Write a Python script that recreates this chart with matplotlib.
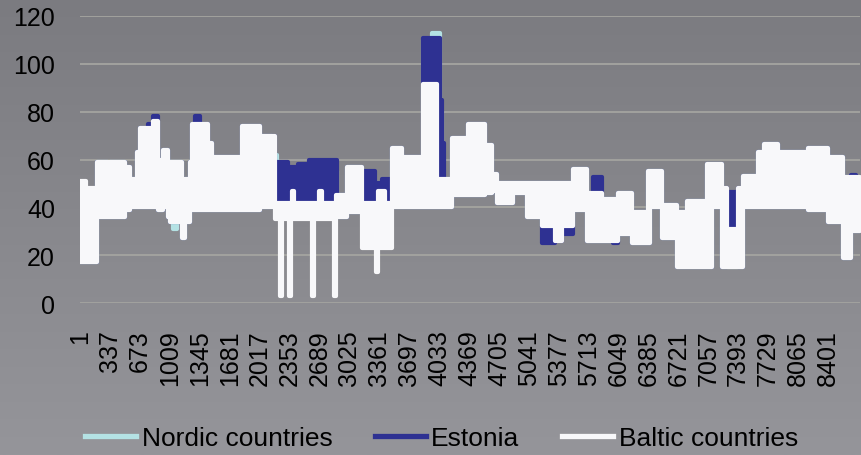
import numpy as np
import matplotlib
matplotlib.use('Agg')
import matplotlib.pyplot as plt
from matplotlib.lines import Line2D

# ============================== DATA ==============================
# Hourly prices read off the chart as blocks: block start hour, daily low, daily high

baltic_start = [1, 67, 191, 315, 337, 506, 562, 641, 674, 760, 820,
                877, 933, 989, 1012, 1146, 1180, 1236, 1259, 1439, 1484,
                1821, 2023, 2192, 2250, 2274, 2350, 2374, 2385, 2409, 2610,
                2634, 2690, 2714, 2856, 2880, 3001, 3170, 3326, 3350, 3430,
                3507, 3620, 3855, 4013, 4181, 4361, 4552, 4631, 4687, 4867,
                5024, 5193, 5339, 5418, 5541, 5699, 5867, 6047, 6204, 6384,
                6407, 6542, 6710, 6823, 7047, 7103, 7216, 7272, 7385, 7441,
                7610, 7677, 7834, 8171, 8396, 8565, 8655]
baltic_lo = [17, 17, 36, 36, 36, 39, 40, 40, 40, 40, 40,
             39, 40, 36, 34, 27, 34, 39, 39, 39, 39,
             39, 40, 35, 3, 35, 3, 35, 35, 35, 3,
             35, 35, 35, 3, 36, 38, 23, 13, 23, 23,
             40, 40, 40, 40, 45, 45, 46, 47, 42, 46,
             36, 32, 26, 32, 39, 26, 26, 29, 25, 25,
             40, 27, 15, 15, 15, 40, 15, 15, 15, 40,
             40, 40, 40, 39, 34, 19, 30]
baltic_hi = [51, 48, 59, 52, 59, 57, 52, 63, 73, 73, 76,
             60, 64, 43, 59, 45, 52, 59, 75, 67, 61,
             74, 70, 42, 42, 42, 42, 42, 47, 42, 42,
             42, 47, 42, 42, 45, 57, 42, 42, 47, 42,
             65, 61, 91.5, 52, 69, 75, 66, 54, 50, 50,
             50, 50, 50, 50, 56, 46, 43.5, 46, 38, 55,
             55, 41, 38, 42.5, 58, 58, 48, 31, 48, 53,
             63, 66.5, 63, 65, 61, 52.7, 52.7]

estonia_start = [1, 191, 315, 337, 506, 562, 641, 674, 760, 820,
                 877, 933, 989, 1012, 1146, 1180, 1236, 1259, 1293, 1349,
                 1439, 1484, 1821, 2023, 2192, 2338, 2450, 2570, 2889, 3001,
                 3170, 3316, 3395, 3507, 3620, 3855, 4040, 4065, 4085, 4181,
                 4361, 4552, 4631, 4687, 4867, 5024, 5193, 5339, 5418, 5541,
                 5699, 5766, 5867, 5991, 6047, 6204, 6384, 6407, 6542, 6710,
                 6823, 7047, 7103, 7216, 7272, 7385, 7441, 7610, 7677, 7834,
                 8171, 8396, 8565, 8655, 8710]
estonia_lo = [17, 36, 36, 36, 39, 40, 40, 40, 40, 40,
              39, 40, 36, 34, 27, 34, 39, 39, 39, 39,
              39, 39, 39, 40, 43, 43, 43, 43, 36, 38,
              43, 43, 43, 40, 40, 40, 40, 40, 40, 45,
              45, 46, 47, 42, 46, 36, 25, 26, 29, 39,
              26, 26, 26, 25, 29, 25, 25, 40, 27, 15,
              15, 15, 40, 15, 31, 15, 40, 40, 40, 40,
              39, 34, 19, 30, 30]
estonia_hi = [46, 59, 52, 59, 57, 52, 63, 73, 75, 78,
              60, 64, 43, 59, 45, 52, 59, 75, 78, 75,
              67, 61, 74, 70, 59, 57, 58, 60, 45, 57,
              55, 50, 52, 65, 61, 111, 85, 67, 52, 69,
              75, 66, 54, 50, 50, 50, 50, 50, 50, 56,
              46, 52.7, 43.5, 43.5, 46, 38, 55, 55, 41, 38,
              42.5, 58, 58, 48, 46.5, 48, 53, 63, 66.5, 63,
              65, 61, 52.7, 53.5, 52.7]

nordic_start = [1, 191, 315, 337, 506, 562, 641, 674, 820, 877,
                933, 989, 1012, 1050, 1090, 1146, 1180, 1236, 1259, 1439,
                1484, 1821, 2023, 2160, 2215, 2889, 3001, 3170, 3507, 3620,
                3855, 3956, 4040, 4069, 4181, 4361, 4552, 4631, 4687, 4867,
                5024, 5193, 5541, 5699, 5867, 6047, 6204, 6384, 6407, 6542,
                6710, 6823, 7047, 7103, 7216, 7441, 7610, 7677, 7834, 8171,
                8396, 8565, 8655]
nordic_lo = [17, 36, 36, 36, 39, 40, 40, 40, 40, 39,
             40, 36, 34, 31, 34, 27, 34, 39, 39, 39,
             39, 39, 40, 40, 43, 36, 38, 43, 40, 40,
             40, 40, 40, 40, 45, 45, 46, 47, 42, 46,
             36, 32, 39, 26, 26, 29, 25, 25, 40, 27,
             15, 15, 15, 40, 15, 40, 40, 40, 40, 39,
             34, 19, 30]
nordic_hi = [46, 59, 52, 59, 57, 52, 63, 73, 76, 60,
             64, 43, 59, 59, 59, 45, 52, 59, 75, 67,
             61, 74, 70, 62, 55, 45, 57, 50, 65, 61,
             110, 113, 80, 52, 69, 75, 66, 54, 50, 50,
             50, 50, 56, 46, 43.5, 46, 38, 55, 55, 41,
             38, 42.5, 58, 58, 46, 53, 63, 66.5, 63, 65,
             61, 52.7, 52.7]

n_hours = 8760
tick_hours = list(range(1, 8402, 336))

# ============================== PLOT STUFF =============================
fsize = [8.62, 4.56]
plt.rcParams['font.family'] = ['Liberation Sans', 'DejaVu Sans']

col_nordic = '#b4e2e4'
col_est = '#2e3192'
col_balt = '#f8f8fa'

fig = plt.figure(figsize=fsize, dpi=100)

# grey gradient background
bg = fig.add_axes([0, 0, 1, 1], zorder=-10)
grad = np.linspace(0, 1, 256).reshape(-1, 1)
bg.imshow(grad, aspect='auto', cmap=matplotlib.colors.LinearSegmentedColormap.from_list(
    'bg', ['#7b7b80', '#95959a']), extent=[0, 1, 0, 1])
bg.axis('off')

ax = fig.add_axes([80/862, 152/456, 780/862, 287/456])
ax.set_facecolor('none')


def band(start, lo, hi, c):
    x = np.array(start + [n_hours])
    ylo = np.array(lo + [lo[-1]])
    yhi = np.array(hi + [hi[-1]])
    poly = ax.fill_between(x, ylo, yhi, step='post', facecolor=c, zorder=3)
    poly.set_edgecolor(c)
    poly.set_linewidth(3.0)
    poly.set_joinstyle('round')


band(nordic_start, nordic_lo, nordic_hi, col_nordic)
band(estonia_start, estonia_lo, estonia_hi, col_est)
band(baltic_start, baltic_lo, baltic_hi, col_balt)

ax.set_xlim(0.5, n_hours + 0.5)
ax.set_ylim(0, 120)
ax.set_yticks(range(0, 121, 20))
ax.set_xticks(tick_hours)
ax.set_xticklabels([str(t) for t in tick_hours], rotation=90)
ax.tick_params(axis='both', length=0, labelsize=18, colors='black')
ax.tick_params(axis='y', pad=18)
ax.tick_params(axis='x', pad=19)
ax.grid(axis='y', color='#a4a4a0', linewidth=1.3, zorder=0)
ax.set_axisbelow(True)
for s in ax.spines.values():
    s.set_visible(False)

handles = [Line2D([], [], color=col_nordic, lw=3.8),
           Line2D([], [], color=col_est, lw=3.8),
           Line2D([], [], color=col_balt, lw=3.8)]
fig.legend(handles, ['Nordic countries', 'Estonia', 'Baltic countries'],
           loc='center', bbox_to_anchor=(0.512, 0.037), ncol=3, frameon=False,
           fontsize=19, handlelength=1.95, handletextpad=0.2, columnspacing=1.6)

plt.savefig('out.png', dpi=100)
